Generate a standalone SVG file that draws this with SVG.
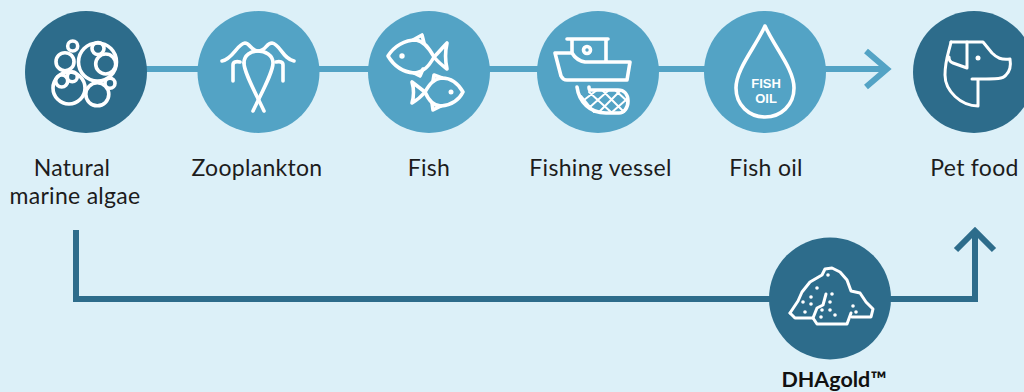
<svg xmlns="http://www.w3.org/2000/svg" width="1024" height="392" viewBox="0 0 1024 392">
<style>
.light{fill:#53a3c5}.dark{fill:#2d6c8b}
.ic{fill:none;stroke:#fff;stroke-width:3.6;stroke-linecap:round;stroke-linejoin:round}
.thin{stroke-width:2}
.dot{fill:#fff;stroke:none}
.c{fill:none;stroke-width:6;stroke-linecap:butt;stroke-linejoin:miter}
.t{font-family:"Lato","Liberation Sans",sans-serif;font-size:23px;fill:#1c1c1c;text-anchor:middle;letter-spacing:.3px}
.o{font-family:"Liberation Sans",sans-serif;font-size:13px;font-weight:700;fill:#fff;text-anchor:middle}
</style>
<rect width="1024" height="392" fill="#dcf0f8"/>
<g id="connectors">
<path class="c" stroke="#53a3c5" d="M86 69H887"/>
<path class="c" stroke="#53a3c5" d="M866 51L887 69L866 87"/>
<path class="c" stroke="#2d6c8b" d="M76 230V299H975V232"/>
<path class="c" stroke="#2d6c8b" d="M956 250L975 231L994 250"/>
</g>
<g id="algae">
<circle class="dark" cx="86" cy="72" r="61"/>
<g class="ic">
<circle cx="97.5" cy="62" r="19"/><circle cx="72.7" cy="46" r="5"/><circle cx="65" cy="61.7" r="9"/><circle cx="98" cy="48.5" r="6"/><circle cx="105.7" cy="64" r="10"/><circle cx="61.7" cy="81" r="6"/><circle cx="72.3" cy="76.7" r="5"/><circle cx="69" cy="88" r="16"/><circle cx="97.3" cy="94.3" r="11.5"/><circle cx="110" cy="83.3" r="5"/>
</g>
<text class="t" x="72" y="176">Natural</text>
<text class="t" x="75" y="204">marine algae</text>
</g>
<g id="zooplankton">
<circle class="light" cx="258.5" cy="72" r="61"/>
<g class="ic">
<path d="M222 61C233 59 237 44 245 43C250 43 251 51 258 51C266 51 266 43 272 43C280 44 283 59 294 61"/>
<path d="M244 63C244 55 251 51 258 51C265 51 273 55 273 63C273 72 263 90 253 111"/>
<path d="M244 63C244 72 254 90 264 111"/>
<path d="M233 81V65C233 62 236 61 240 62"/>
<path d="M283 81V65C283 62 280 61 276 62"/>
</g>
<text class="t" x="257" y="176">Zooplankton</text>
</g>
<g id="fish">
<circle class="light" cx="429" cy="72" r="61"/>
<g class="ic">
<path d="M388 56C394 46 405 40 416 40C424 41 429 48 434 57C429 66 424 72 414 73C403 72 394 66 388 56Z"/>
<path d="M434 57C439 52 443 47 447 43C445 52 445 60 447 69C443 66 438 62 434 57Z"/>
<path d="M413 40L422 35L424 43M414 73L420 76L423 69"/>
<path d="M425 92C429 85 433 79 442 78C452 78 459 85 463 92C459 100 452 105 441 106C433 106 428 99 425 92Z"/>
<path d="M425 92C421 89 416 85 412 82C414 89 414 96 412 103C417 100 421 97 425 92Z"/>
<path d="M433 81L434 75L442 78M432 103L433 110L441 106"/>
</g>
<circle class="dot" cx="402" cy="56" r="2.7"/><circle class="dot" cx="451" cy="92" r="2.5"/>
<text class="t" x="429" y="176">Fish</text>
</g>
<g id="fishing-vessel">
<circle class="light" cx="598" cy="72" r="61"/>
<g class="ic">
<path d="M567 39H608M572 40V52M606 40V61"/>
<path d="M555 53H572C575 58 579 61 585 62H630L627 80H567C564 80 562 78 561 76Z"/>
<circle cx="587" cy="50" r="3.5"/>
<path d="M577 87C579 102 590 113 606 113H619C624 113 628 108 628 101C628 94 624 90 618 90H590C589 90 589 88 589 87"/>
<g class="thin"><path d="M584 100L597 90M590 107L609 90M599 112L620 91M611 113L627 99M589 92L612 113M602 90L624 112M615 90L627 101M581 96L594 112"/></g>
</g>
<text class="t" x="600.5" y="176">Fishing vessel</text>
</g>
<g id="fish-oil">
<circle class="light" cx="765" cy="72" r="61"/>
<path class="ic" d="M765 26C755 48 736 69 736 88C736 105 749 117 765 117C781 117 794 105 794 88C794 69 775 48 765 26Z"/>
<text class="o" x="766" y="88">FISH</text>
<text class="o" x="766" y="103">OIL</text>
<text class="t" x="766" y="176">Fish oil</text>
</g>
<g id="pet-food">
<circle class="dark" cx="974" cy="72" r="61"/>
<g class="ic" style="stroke-width:3">
<path d="M951 42H983L992 53C997 58 1001 60 1010 59C1011 65 1010 71 1006 75C1003 79 1000 79 972 79"/>
<path d="M978 80V106C961 106 945 91 945 75C945 60 949 52 951 42"/>
<path d="M967 42V68L953 63C950 62 949 60 949 57"/>
</g>
<circle class="dot" cx="978" cy="58" r="2.5"/>
<text class="t" x="974.500" y="176">Pet food</text>
</g>
<g id="dhagold">
<circle class="dark" cx="830" cy="298.500" r="61"/>
<g class="ic" style="stroke-width:3">
<path d="M790 313L798 301L802 292L810 282L822 275L825 269L832 268L840 272L847 280L851 291L860 293L866 302L873 309L871 317H852"/>
<path d="M790 313L795 318H813"/>
<path d="M826 294L823 305L817 308L813 318L817 324H847L851 313"/>
</g>
<g class="dot"><circle cx="828" cy="275" r="1.8"/><circle cx="817" cy="288" r="1.8"/><circle cx="803" cy="302" r="1.8"/><circle cx="811" cy="297" r="1.8"/><circle cx="811" cy="304" r="1.8"/><circle cx="805" cy="312" r="1.8"/><circle cx="832" cy="294" r="1.8"/><circle cx="830" cy="302" r="1.8"/><circle cx="822" cy="310" r="1.8"/><circle cx="830" cy="310" r="1.8"/><circle cx="821" cy="317" r="1.8"/><circle cx="835" cy="315" r="1.8"/><circle cx="853" cy="306" r="1.8"/><circle cx="856" cy="312" r="1.8"/></g>
<text x="834" y="387" text-anchor="middle" font-family="Lato,'Liberation Sans',sans-serif" font-size="21.500" font-weight="700" fill="#111">DHAgold™</text>
</g>
</svg>
